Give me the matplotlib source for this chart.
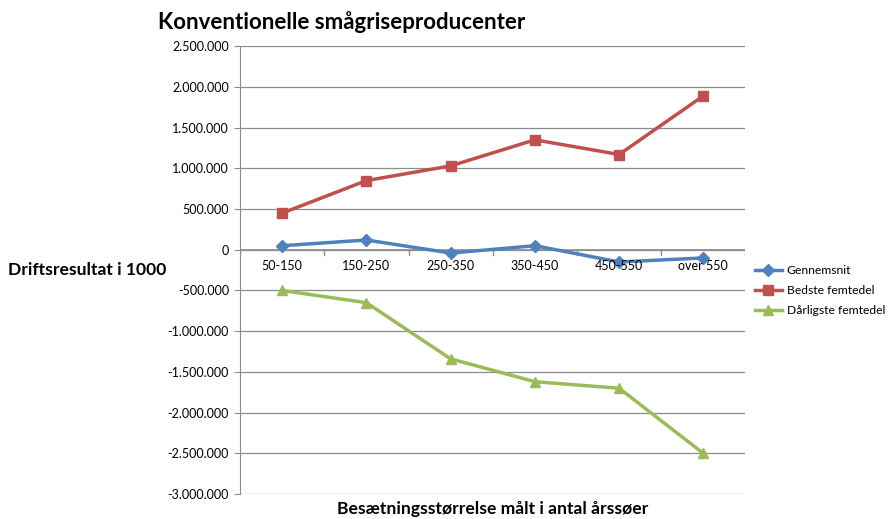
import matplotlib.pyplot as plt
import numpy as np

# data
categories = ['50-150', '150-250', '250-350', '350-450', '450-550', 'over 550']
gennemsnit = [50000, 120000, -40000, 50000, -150000, -100000]
bedste = [450000, 850000, 1030000, 1350000, 1170000, 1890000]
daarligste = [-500000, -650000, -1340000, -1620000, -1700000, -2500000]
yticks = np.arange(-3000000, 2500001, 500000)

plt.rcParams['font.family'] = ['Lato', 'DejaVu Sans']

fig = plt.figure(figsize=(8.96, 5.19), dpi=100)
ax = fig.add_axes([0.268, 0.048, 0.564, 0.863])

x = np.arange(len(categories))
ax.plot(x, gennemsnit, color='#4F81BD', lw=2.5, marker='D', ms=6, label='Gennemsnit')
ax.plot(x, bedste, color='#C0504D', lw=2.5, marker='s', ms=7, label='Bedste femtedel')
ax.plot(x, daarligste, color='#9BBB59', lw=2.5, marker='^', ms=7, label='Dårligste femtedel')

ax.set_xlim(-0.5, len(categories) - 0.5)
ax.set_ylim(-3000000, 2500000)
ax.set_yticks(yticks)
ax.set_yticklabels([f'{v:,}'.replace(',', '.') for v in yticks], fontsize=9)
ax.grid(axis='y', color='#8c8c8c', lw=0.9)
ax.set_axisbelow(True)

# category axis sits on zero
for s in ['top', 'right', 'bottom']:
    ax.spines[s].set_visible(False)
ax.spines['left'].set_color('#8c8c8c')
ax.tick_params(axis='y', length=4, color='#8c8c8c', pad=4)
ax.set_xticks([])
ax.axhline(0, color='#8c8c8c', lw=1.2, zorder=1)
for b in np.arange(-0.5, len(categories), 1):
    ax.plot([b, b], [0, -60000], color='#8c8c8c', lw=1, zorder=1)
for i, c in enumerate(categories):
    ax.text(i, -120000, c, ha='center', va='top', fontsize=9)

fig.text(0.176, 0.957, 'Konventionelle smågriseproducenter', fontsize=16,
         fontweight='bold', ha='left', va='center')
fig.text(0.009, 0.48, 'Driftsresultat i 1000', fontsize=12.6, fontweight='bold',
         ha='left', va='center')
fig.text(0.55, 0.02, 'Besætningsstørrelse målt i antal årssøer', fontsize=12.6,
         fontweight='bold', ha='center', va='center')

ax.legend(loc='center left', bbox_to_anchor=(1.0, 0.455), frameon=False,
          fontsize=8.7, handlelength=2.2, handletextpad=0.4, labelspacing=0.75,
          borderaxespad=0.4)

fig.savefig('out.png', dpi=100)
